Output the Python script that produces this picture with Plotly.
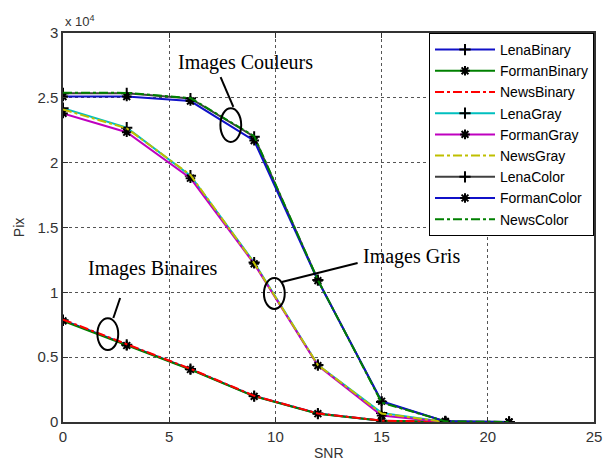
import plotly.graph_objects as go

# SNR levels (dB)
snr = [0, 3, 6, 9, 12, 15, 18, 21]

# Pixel counts per image and type
lena_binary = [7850, 5950, 4080, 2000, 650, 100, 0, 0]
forman_binary = [7800, 5900, 4050, 1980, 640, 90, 0, 0]
news_binary = [7900, 6000, 4100, 2020, 660, 110, 0, 0]

lena_gray = [24200, 22700, 19000, 12300, 4400, 700, 0, 0]
forman_gray = [23800, 22350, 18800, 12200, 4350, 500, 0, 0]
news_gray = [24100, 22650, 19050, 12250, 4400, 650, 0, 0]

lena_color = [25350, 25350, 24950, 22000, 10950, 1550, 50, 0]
forman_color = [25100, 25100, 24750, 21700, 10900, 1600, 50, 0]
news_color = [25400, 25380, 24980, 22050, 10950, 1500, 50, 0]

y_ticks = [0, 5000, 10000, 15000, 20000, 25000, 30000]
y_tick_text = ["0", "0.5", "1", "1.5", "2", "2.5", "3"]
x_ticks = [0, 5, 10, 15, 20, 25]

series = [
    ("LenaBinary", lena_binary, "#1010c8", "solid", "cross-thin"),
    ("FormanBinary", forman_binary, "#008000", "solid", "asterisk-open"),
    ("NewsBinary", news_binary, "#ff0000", "dashdot", None),
    ("LenaGray", lena_gray, "#00bfbf", "solid", "cross-thin"),
    ("FormanGray", forman_gray, "#bf00bf", "solid", "asterisk-open"),
    ("NewsGray", news_gray, "#bfbf00", "dashdot", None),
    ("LenaColor", lena_color, "#404040", "solid", "cross-thin"),
    ("FormanColor", forman_color, "#1010c8", "solid", "asterisk-open"),
    ("NewsColor", news_color, "#008000", "dashdot", None),
]

fig = go.Figure()
for name, vals, color, dash, sym in series:
    if sym:
        marker = dict(symbol=sym, size=8, color="black",
                      line=dict(color="black", width=2))
        mode = "lines+markers"
    else:
        marker = None
        mode = "lines"
    fig.add_trace(go.Scatter(
        x=snr, y=vals, name=name, mode=mode,
        line=dict(color=color, width=2, dash=dash),
        marker=marker,
    ))

serif = dict(family="Liberation Serif", size=20, color="black")

# Group labels with pointer lines and ellipses
labels = [
    # text, text x, text y, anchor, line (x0,y0,x1,y1), ellipse (x0,y0,x1,y1)
    ("Images Couleurs", 8.6, 27760, "center", (7.42, 26600, 8.02, 24300), (7.41, 21600, 8.39, 24200)),
    ("Images Gris", 14.05, 12800, "left", (10.3, 10790, 13.87, 12260), (9.46, 8720, 10.44, 11100)),
    ("Images Binaires", 4.22, 11870, "center", (2.69, 9560, 2.37, 8020), (1.62, 5550, 2.6, 8010)),
]
for text, tx, ty, anchor, ln, el in labels:
    fig.add_annotation(x=tx, y=ty, xref="x", yref="y", text=text, showarrow=False,
                       xanchor=anchor, yanchor="middle", font=serif)
    fig.add_shape(type="line", xref="x", yref="y", x0=ln[0], y0=ln[1], x1=ln[2], y1=ln[3],
                  line=dict(color="black", width=2))
    fig.add_shape(type="circle", xref="x", yref="y", x0=el[0], y0=el[1], x1=el[2], y1=el[3],
                  line=dict(color="black", width=2))

tick_font = dict(family="Arial, Liberation Sans", size=15, color="#333333")

fig.add_annotation(x=0, y=1, xref="paper", yref="paper", text="x 10<sup>4</sup>",
                   showarrow=False, xanchor="left", yanchor="bottom", yshift=2,
                   font=dict(family="Arial, Liberation Sans", size=13, color="#333333"))
fig.add_annotation(x=-45 / 539, y=0.5, xref="paper", yref="paper", text="Pix",
                   showarrow=False, textangle=-90, xanchor="center", yanchor="middle",
                   font=dict(family="Arial, Liberation Sans", size=14, color="#333333"))
fig.add_annotation(x=0.5, y=-31 / 389, xref="paper", yref="paper", text="SNR",
                   showarrow=False, xanchor="center", yanchor="middle",
                   font=dict(family="Arial, Liberation Sans", size=14, color="#333333"))

axis_common = dict(
    showline=True, linecolor="#333333", linewidth=1.5, mirror="ticks",
    ticks="inside", ticklen=5, tickcolor="#333333",
    showgrid=True, gridcolor="#555555", gridwidth=1, griddash="dot",
    zeroline=False, tickfont=tick_font,
)

fig.update_xaxes(range=[0, 25], tickvals=x_ticks, **axis_common)
fig.update_yaxes(range=[0, 30000], tickvals=y_ticks, ticktext=y_tick_text, **axis_common)

fig.update_layout(
    width=610, height=460,
    margin=dict(l=63, r=8, t=33, b=38),
    plot_bgcolor="white", paper_bgcolor="white",
    legend=dict(
        x=1, y=1, xanchor="right", yanchor="top",
        bgcolor="white", bordercolor="black", borderwidth=1,
        font=dict(family="Arial, Liberation Sans", size=14, color="black"),
        itemwidth=60, tracegroupgap=0,
    ),
)

fig.write_html("out.html")
